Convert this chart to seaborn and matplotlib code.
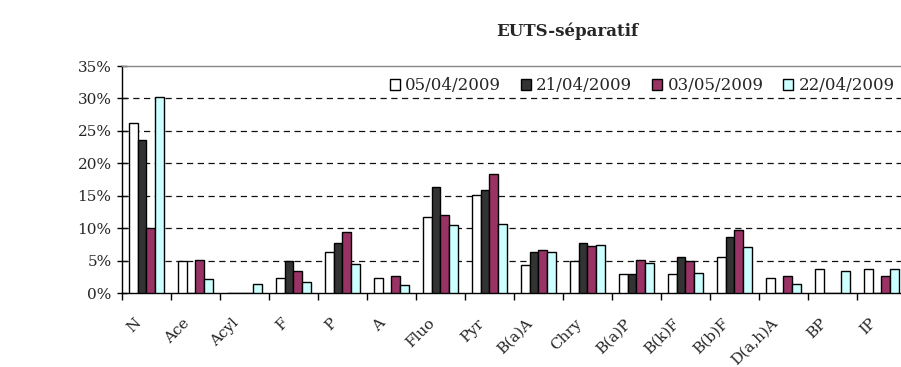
import matplotlib
matplotlib.use("Agg")
import matplotlib.pyplot as plt
import matplotlib.transforms as mtransforms
from matplotlib.patches import Patch
from matplotlib.ticker import FixedLocator, PercentFormatter
import numpy as np
import pandas as pd
import seaborn as sns

# PAH profile (% of total) per sampling date
compounds = ["N", "Ace", "Acyl", "F", "P", "A", "Fluo", "Pyr", "B(a)A", "Chry",
             "B(a)P", "B(k)F", "B(b)F", "D(a,h)A", "BP", "IP"]
dates = ["05/04/2009", "21/04/2009", "03/05/2009", "22/04/2009"]
v_0504 = [26.2, 5.0, 0.0, 2.3, 6.3, 2.3, 11.8, 15.2, 4.3, 5.0, 3.0, 3.0, 5.6, 2.4, 3.7, 3.7]
v_2104 = [23.6, 0.0, 0.0, 5.0, 7.7, 0.0, 16.3, 15.9, 6.4, 7.7, 3.0, 5.6, 8.6, 0.0, 0.0, 0.0]
v_0305 = [10.0, 5.1, 0.0, 3.4, 9.4, 2.6, 12.0, 18.4, 6.7, 7.3, 5.1, 5.0, 9.7, 2.6, 0.0, 2.6]
v_2204 = [30.3, 2.2, 1.5, 1.7, 4.5, 1.3, 10.5, 10.7, 6.4, 7.5, 4.7, 3.2, 7.1, 1.5, 3.4, 3.8]
colors = ["#FFFFFF", "#333333", "#993366", "#CCFFFF"]

series = [v_0504, v_2104, v_0305, v_2204]
df = pd.DataFrame({
    "compound": np.tile(compounds, len(dates)),
    "date": np.repeat(dates, len(compounds)),
    "value": np.concatenate(series),
})

sns.set_style("white")
plt.rcParams["font.family"] = ["DejaVu Serif"]

fig = plt.figure(figsize=(9.01, 3.67), dpi=100)
ax = fig.add_axes([0.1354, 0.2008, 0.8701, 0.6193])

sns.barplot(data=df, x="compound", y="value", hue="date", hue_order=dates,
            order=compounds, palette=colors, edgecolor="black", linewidth=1.0,
            width=0.71, gap=0, saturation=1, legend=False, ax=ax, zorder=3)

ax.set_xlim(-0.5, len(compounds) - 0.5)
ax.set_ylim(0, 35)
ax.set_xlabel("")
ax.set_ylabel("")

# horizontal dashed gridlines
for yv in range(5, 35, 5):
    ax.axhline(yv, color="#111111", lw=0.9, dashes=(5.0, 3.6), zorder=1)

# spines
ax.spines["right"].set_visible(False)
ax.spines["top"].set_visible(True)
ax.spines["top"].set_color("#888888")
ax.spines["top"].set_linewidth(1.0)
for s in ["left", "bottom"]:
    ax.spines[s].set_visible(True)
    ax.spines[s].set_color("black")
    ax.spines[s].set_linewidth(1.0)

# y axis
ax.set_yticks(range(0, 36, 5))
ax.yaxis.set_major_formatter(PercentFormatter(decimals=0))
ax.tick_params(axis="y", direction="inout", length=7, width=1, color="black",
               labelsize=11, pad=4, left=True)

# x axis: marks between categories, labels at centres
ax.set_xticks(range(len(compounds)))
ax.set_xticklabels(compounds, rotation=45, ha="right", va="center",
                   rotation_mode="anchor", fontsize=11)
ax.xaxis.set_minor_locator(FixedLocator(np.arange(-0.5, len(compounds), 1.0)))
ax.tick_params(axis="x", which="major", length=0, pad=20)
ax.tick_params(axis="x", which="minor", direction="out", length=5, width=1,
               color="black", bottom=True)
shift = mtransforms.ScaledTranslation(-8 / 100, 0, fig.dpi_scale_trans)
for lab in ax.get_xticklabels():
    lab.set_transform(lab.get_transform() + shift)

# legend
handles = [Patch(facecolor=c, edgecolor="black", linewidth=1.0) for c in colors]
fig.legend(handles, dates, loc="center", bbox_to_anchor=(0.713, 0.766),
           ncol=4, frameon=False, fontsize=12, handlelength=0.6,
           handleheight=0.6, handletextpad=0.3, columnspacing=1.2,
           borderaxespad=0)

fig.text(567 / 901, 1 - 31 / 367, "EUTS-séparatif", ha="center", va="center",
         fontsize=12, fontweight="bold")

fig.savefig("out.png", dpi=100)
